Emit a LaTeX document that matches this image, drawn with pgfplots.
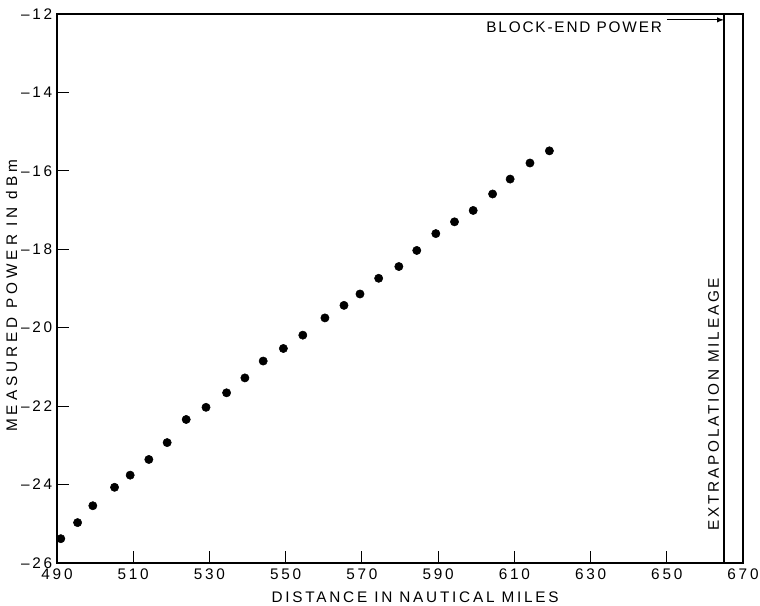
\documentclass[border=0pt]{standalone}
\usepackage{fontspec}
\setmainfont{Liberation Sans}[LetterSpace=18]
\usepackage{pgfplots}
\pgfplotsset{compat=1.18}
\pgfplotstableread{
x y
491.0 -25.38
495.4 -24.97
499.4 -24.54
505.1 -24.07
509.2 -23.76
514.1 -23.36
518.9 -22.93
523.9 -22.34
529.1 -22.03
534.5 -21.66
539.3 -21.28
544.1 -20.85
549.4 -20.53
554.5 -20.19
560.3 -19.75
565.3 -19.43
569.5 -19.14
574.4 -18.74
579.7 -18.44
584.4 -18.03
589.4 -17.60
594.3 -17.30
599.2 -17.01
604.3 -16.59
608.9 -16.21
614.1 -15.80
619.2 -15.49
}\measured
\begin{document}
\begin{tikzpicture}
\begin{axis}[
  scale only axis, width=514.5pt, height=411.75pt,
  xmin=490, xmax=670, ymin=-26, ymax=-12,
  xtick={490,510,...,670}, ytick={-26,-24,...,-12},
  yticklabels={\textendash26,\textendash24,\textendash22,\textendash20,\textendash18,\textendash16,\textendash14,\textendash12},
  /pgf/number format/assume math mode=true,
  tick align=inside, xtick pos=left, ytick pos=left,
  major tick length=9pt,
  axis line style={line width=1pt},
  every tick/.style={black, line width=0.9pt},
  tick label style={font=\fontsize{11.5}{13}\selectfont},
  xticklabel style={yshift=-1pt},
  label style={font=\fontsize{11.5}{13}\selectfont},
  xlabel={DISTANCE IN NAUTICAL MILES},
  ylabel={\addfontfeature{LetterSpace=26}MEASURED POWER IN dBm},
  xlabel style={at={(axis description cs:0.522,-0.062)}, anchor=center},
  ylabel style={at={(axis description cs:-0.066,0.487)}, anchor=center},
  clip=false,
]
\addplot[only marks, mark=*, mark size=3.1pt, black] table {\measured};
\addplot[line width=1pt, black] coordinates {(665,-26) (665,-12)};
\draw[line width=0.8pt, -latex] (axis cs:650,-12.15) -- (axis cs:665,-12.15);
\node[anchor=east, inner sep=0pt, font=\fontsize{11.5}{13}\selectfont\addfontfeature{LetterSpace=12}] at (axis cs:648.8,-12.33) {BLOCK-END POWER};
\node[rotate=90, inner sep=0pt, font=\fontsize{11.5}{13}\selectfont] at (axis cs:662.3,-21.95) {EXTRAPOLATION MILEAGE};
\end{axis}
\pgfresetboundingbox
\path (current axis.south west) ++(-42.75pt,-32.25pt) rectangle ([xshift=12.75pt,yshift=10.5pt]current axis.north east);
\end{tikzpicture}
\end{document}
